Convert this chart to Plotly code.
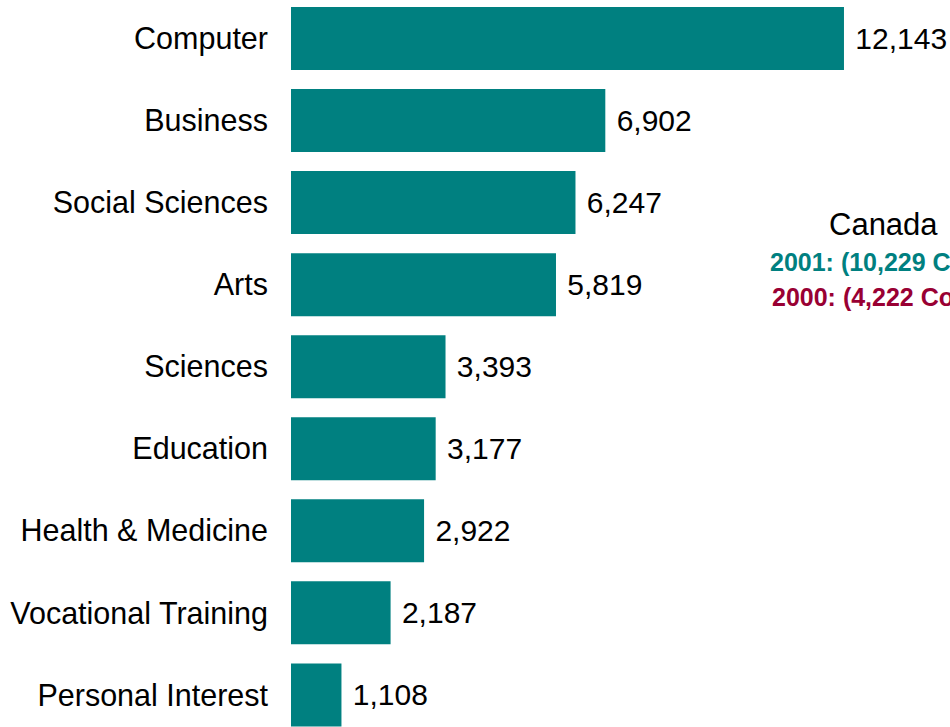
import plotly.graph_objects as go

# Course counts by subject area
categories = ["Computer", "Business", "Social Sciences", "Arts", "Sciences",
              "Education", "Health & Medicine", "Vocational Training", "Personal Interest"]
courses = [12143, 6902, 6247, 5819, 3393, 3177, 2922, 2187, 1108]

region = "Canada"
summary_2001 = "2001: (10,229 Courses)"
summary_2000 = "2000: (4,222 Courses)"

TEAL = "#008080"
CRIMSON = "#990033"
FONT = "Liberation Sans, Arial, sans-serif"

fig = go.Figure(
    go.Bar(
        x=courses,
        y=categories,
        orientation="h",
        marker=dict(color=TEAL, line=dict(width=0)),
        text=["\u00a0" + f"{v:,}" for v in courses],
        textposition="outside",
        textfont=dict(family=FONT, size=30, color="black"),
        cliponaxis=False,
        hoverinfo="skip",
    )
)

fig.update_layout(
    width=950,
    height=727,
    margin=dict(l=291, r=0, t=0, b=0),
    paper_bgcolor="white",
    plot_bgcolor="white",
    bargap=0.232,
    showlegend=False,
    font=dict(family=FONT, color="black"),
)

fig.update_xaxes(range=[0, 14471], visible=False, fixedrange=True)
fig.update_yaxes(
    type="category",
    categoryorder="array",
    categoryarray=categories,
    range=[8.391, -0.469],
    showgrid=False,
    zeroline=False,
    showline=False,
    ticks="",
    ticklabelstandoff=22,
    tickfont=dict(family=FONT, size=30.5, color="black"),
    fixedrange=True,
)

# Summary block on the right
fig.add_annotation(
    text=region, xref="paper", yref="paper", x=(883 - 291) / 659, y=1 - 224 / 727,
    xanchor="center", yanchor="middle", showarrow=False,
    font=dict(family=FONT, size=31, color="black"),
)
fig.add_annotation(
    text="<b>" + summary_2001 + "</b>", xref="paper", yref="paper",
    x=(768 - 291) / 659, y=1 - 262 / 727,
    xanchor="left", yanchor="middle", showarrow=False,
    font=dict(family=FONT, size=25, color=TEAL),
)
fig.add_annotation(
    text="<b>" + summary_2000 + "</b>", xref="paper", yref="paper",
    x=(770 - 291) / 659, y=1 - 297 / 727,
    xanchor="left", yanchor="middle", showarrow=False,
    font=dict(family=FONT, size=25, color=CRIMSON),
)

fig.write_html("out.html")
